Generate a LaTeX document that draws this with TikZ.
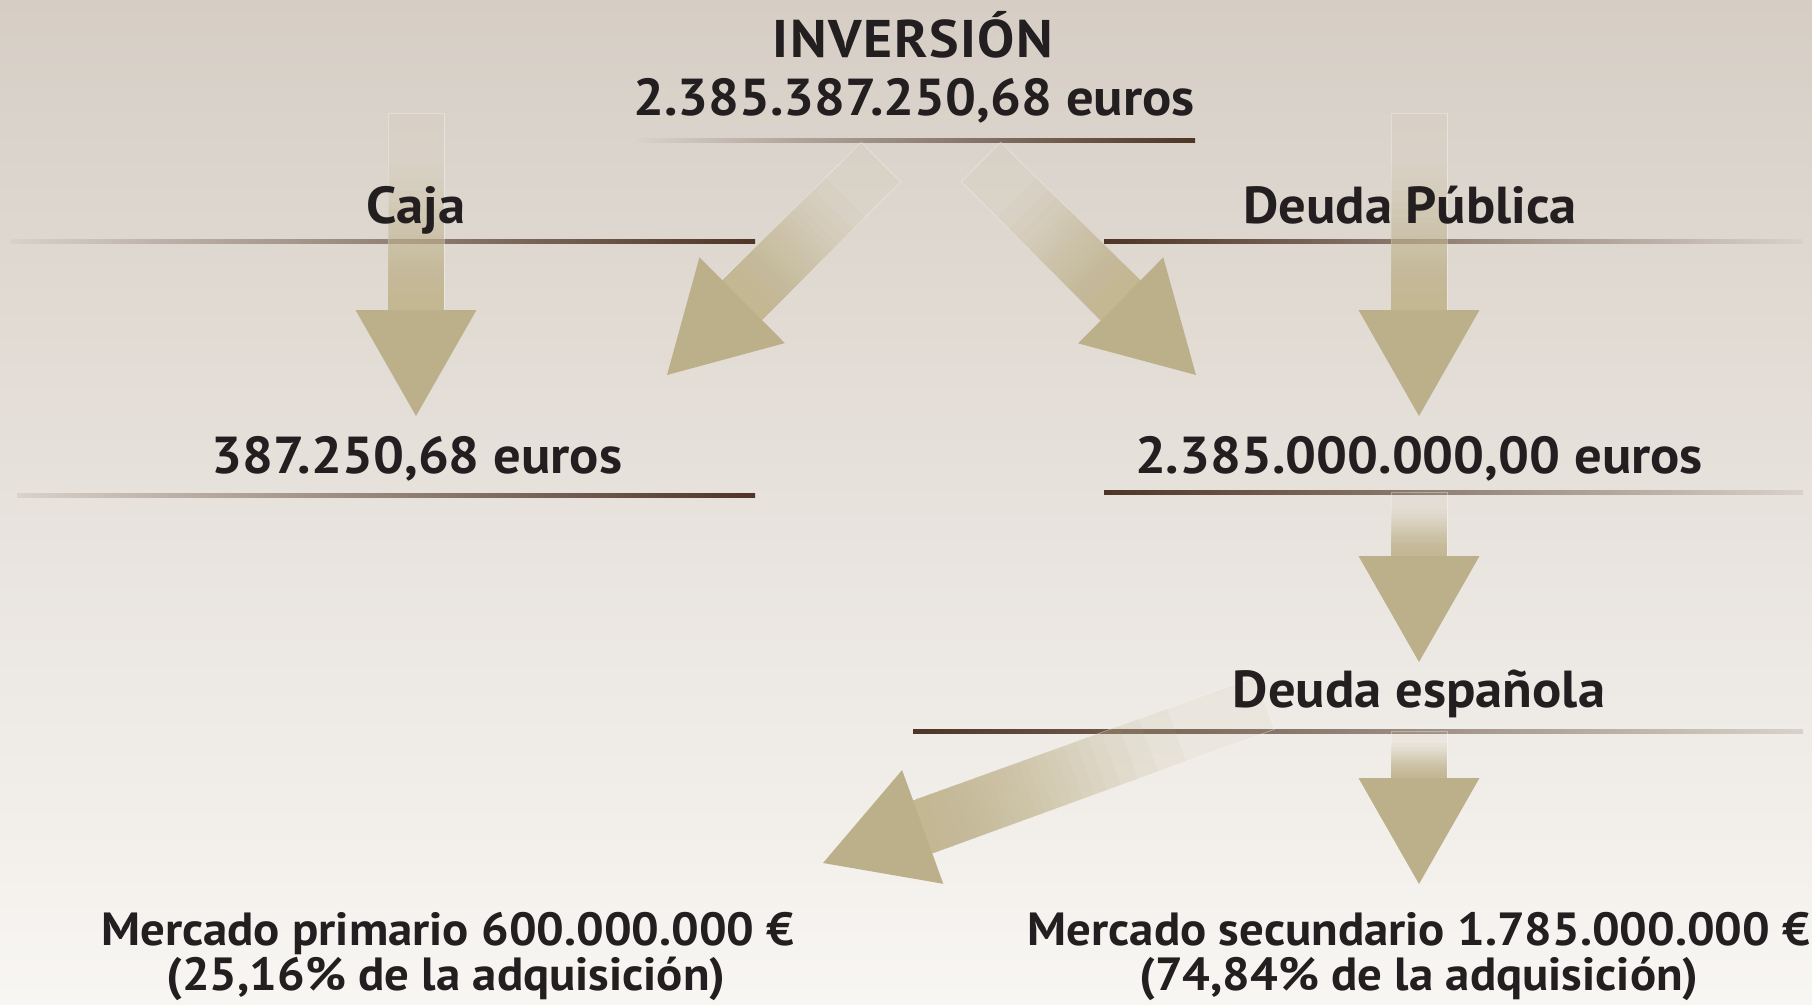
\documentclass[tikz,border=0pt]{standalone}
\usepackage{fontspec}
\setmainfont{PT Sans}[FakeStretch=1.05]
\usetikzlibrary{calc}

\definecolor{bgtop}{HTML}{D6CEC5}
\definecolor{bgmid}{HTML}{E3DFD9}
\definecolor{bgbot}{HTML}{F8F6F3}
\definecolor{ruledark}{HTML}{4E3526}
\definecolor{rulelight}{HTML}{D9D2CA}
\definecolor{shaftcol}{HTML}{C4B893}
\definecolor{headcol}{HTML}{BCB08A}
\definecolor{txtcol}{HTML}{231F20}

% fat arrow from one named coordinate to another, shaft fading in
\newcommand{\fatarrow}[2]{%
  \path let \p1=($(#2)-(#1)$) in \pgfextra{%
    \pgfmathsetmacro\arang{atan2(\y1,\x1)}%
    \pgfmathsetmacro\arlen{veclen(\x1,\y1)}%
    \xdef\arang{\arang}\xdef\arlen{\arlen}};
  \pgfmathsetmacro\shlen{\arlen-106}
  \begin{scope}[shift={(#1)}, rotate=\arang]
    \draw[white, opacity=0.35, line width=0.8pt] (0pt,-28pt) rectangle (\shlen pt,28pt);
    \foreach \i in {0,...,29} {
      \ifnum\i=0 \def\xs{0}\else \pgfmathsetmacro\xs{\shlen*(\i/30)^0.4}\fi
      \fill[shaftcol, opacity=0.085] (\xs pt,-28pt) rectangle (\shlen pt+0.5pt,28pt);
    }
    \fill[headcol] (\shlen pt,-60.5pt) -- (\arlen pt,0pt) -- (\shlen pt,60.5pt) -- cycle;
  \end{scope}
}

\begin{document}
\begin{tikzpicture}[x=1pt, y=-1pt,
  lbl/.style={font=\bfseries\fontsize{52}{60}\selectfont, text=txtcol, anchor=base, inner sep=0pt},
  small/.style={lbl, font=\bfseries\fontsize{46.5}{54}\selectfont},
  rule/.style={line width=0pt}]
\useasboundingbox (0,0) rectangle (1812,1004);
\shade[top color=bgtop, middle color=bgmid, bottom color=bgbot] (0,0) rectangle (1812,1004);

% rules
\shade[rule, left color=rulelight, right color=ruledark] (636,138) rectangle (1195,142);
\shade[rule, left color=rulelight, right color=ruledark] (10,239) rectangle (755,243);
\shade[rule, left color=ruledark, right color=rulelight] (1104,239) rectangle (1803,243);
\shade[rule, left color=rulelight, right color=ruledark] (17,493) rectangle (755,497);
\shade[rule, left color=ruledark, right color=rulelight] (1104,490) rectangle (1803,494);
\shade[rule, left color=ruledark, right color=rulelight] (913,729) rectangle (1803,733);

% arrow ends
\coordinate (cajaFrom) at (416,113);
\coordinate (cajaTo) at (416,416);
\coordinate (pubFrom) at (1419,113);
\coordinate (pubTo) at (1419,416);
\coordinate (leftFrom) at (881,162);
\coordinate (leftTo) at (667,375);
\coordinate (rightFrom) at (981,162);
\coordinate (rightTo) at (1196,375);
\coordinate (espFrom) at (1419,492);
\coordinate (espTo) at (1419,662);
\coordinate (secFrom) at (1419,731);
\coordinate (secTo) at (1419,884);
\coordinate (priFrom) at (1265,703);
\coordinate (priTo) at (823,863);

\fatarrow{cajaFrom}{cajaTo}
\fatarrow{pubFrom}{pubTo}
\fatarrow{leftFrom}{leftTo}
\fatarrow{rightFrom}{rightTo}
\fatarrow{espFrom}{espTo}
\fatarrow{secFrom}{secTo}
\fatarrow{priFrom}{priTo}

% labels
\node[lbl, font=\bfseries\fontsize{53}{60}\selectfont\addfontfeature{LetterSpace=3}] (inv) at (913,57) {INVERSIÓN};
\node[lbl] (total) at (914,115) {2.385.387.250,68 euros};
\node[lbl] (caja) at (416,223) {Caja};
\node[lbl] (pub) at (1410,223) {Deuda Pública};
\node[lbl] (cajaval) at (417,473) {387.250,68 euros};
\node[lbl] (pubval) at (1419,473) {2.385.000.000,00 euros};
\node[lbl] (esp) at (1419,707) {Deuda española};
\node[small] (pri) at (448,945) {Mercado primario 600.000.000 €};
\node[small] (pripc) at (446,990) {(25,16\% de la adquisición)};
\node[small] (sec) at (1419,945) {Mercado secundario 1.785.000.000 €};
\node[small] (secpc) at (1419,990) {(74,84\% de la adquisición)};
\end{tikzpicture}
\end{document}
